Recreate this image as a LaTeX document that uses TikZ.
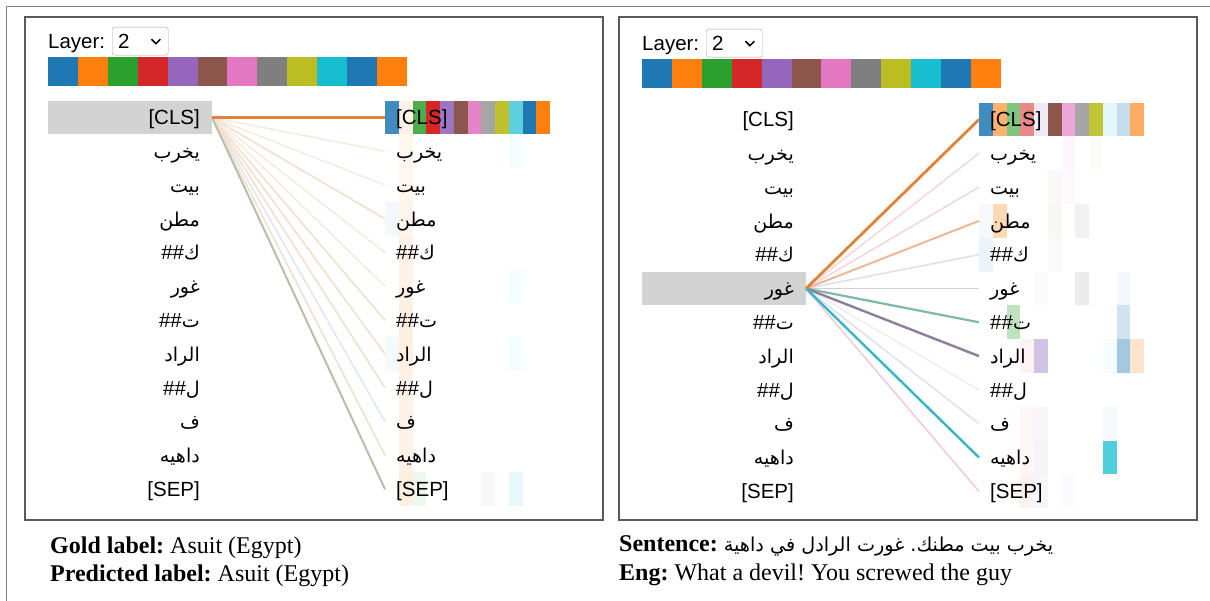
\documentclass[tikz,border=0pt]{standalone}
\usepackage{fontspec}
\setmainfont{Liberation Serif}
\setsansfont{Liberation Sans}
\newfontfamily\arabicfont[Script=Arabic,Scale=0.93]{DejaVu Sans}
\newfontfamily\arabiccap[Script=Arabic,Scale=0.8]{DejaVu Sans}
\TeXXeTstate=1
\usepackage{tikz}
\usetikzlibrary{positioning,calc}
\frenchspacing

\definecolor{tabblue}{HTML}{1F77B4}
\definecolor{taborange}{HTML}{FF7F0E}
\definecolor{tabgreen}{HTML}{2CA02C}
\definecolor{tabred}{HTML}{D62728}
\definecolor{tabpurple}{HTML}{9467BD}
\definecolor{tabbrown}{HTML}{8C564B}
\definecolor{tabpink}{HTML}{E377C2}
\definecolor{tabgray}{HTML}{7F7F7F}
\definecolor{tabolive}{HTML}{BCBD22}
\definecolor{tabcyan}{HTML}{17BECF}
\definecolor{selgray}{HTML}{D3D3D3}
\definecolor{framegray}{HTML}{5A5A5A}
% attention line colours (already mixed with white)
\definecolor{lnorange}{HTML}{E0823A}
\definecolor{lntanA}{HTML}{F6EBE0}
\definecolor{lntanB}{HTML}{F2E0CE}
\definecolor{lnolive}{HTML}{B8BEA8}
\definecolor{lnblue}{HTML}{E2E7EE}
\definecolor{lnpink}{HTML}{F4D8DC}
\definecolor{lnpeach}{HTML}{EBB898}
\definecolor{lnsteel}{HTML}{DCE2EC}
\definecolor{lnlav}{HTML}{CFCBDA}
\definecolor{lnteal}{HTML}{7DB8A8}
\definecolor{lnplum}{HTML}{8E7E9E}
\definecolor{lnfaint}{HTML}{EEEEF3}
\definecolor{lnlavB}{HTML}{E2E0EA}
\definecolor{lncyan}{HTML}{35B7CB}
\definecolor{lnpinkB}{HTML}{F0CCD6}

\newcommand{\artok}[1]{{\arabicfont\beginR #1\endR}}
\newcommand{\toklist}{{[CLS]},{\artok{يخرب}},{\artok{بيت}},{\artok{مطن}},{\#\#\artok{ك}},{\artok{غور}},{\#\#\artok{ت}},{\artok{الراد}},{\#\#\artok{ل}},{\artok{ف}},{\artok{داهيه}},{[SEP]}}
\newcommand{\headcols}{tabblue,taborange,tabgreen,tabred,tabpurple,tabbrown,tabpink,tabgray,tabolive,tabcyan,tabblue,taborange}

\begin{document}
\begin{tikzpicture}[x=1pt,y=-1pt,
  tokfont/.style={font=\fontsize{20.5}{24}\selectfont\sffamily},
  qtok/.style={tokfont, anchor=east, inner xsep=12pt, inner ysep=0pt, text height=18.5pt, text depth=4pt},
  ktok/.style={tokfont, anchor=west, inner xsep=11pt, inner ysep=0pt, text height=18.5pt, text depth=4pt},
  selbox/.style={anchor=east, fill=selgray, minimum width=164pt, minimum height=33pt, inner sep=0pt},
  dropbox/.style={draw=gray!70, rounded corners=2.5pt, anchor=north west, minimum width=56pt, minimum height=28pt, inner sep=0pt},
  plain/.style={tokfont, anchor=base west, inner sep=0pt},
  caption/.style={anchor=base west, inner sep=0pt, font=\fontsize{24}{28}\selectfont},
  frame/.style={draw=framegray, line width=1.1pt}]
\fill[white] (0,0) rectangle (1210,601);
\useasboundingbox (0,0) rectangle (1210,601);
\draw[gray, line width=1pt] (6,601) -- (6,7) -- (1210,7);
\draw[frame] (25,17) rectangle (603,520);
\draw[frame] (619,17) rectangle (1197,520);

% left panel, query token [CLS]
\begin{scope}
\node[plain] (alayer) at (48,49) {Layer:};
\node[dropbox] (adrop) at (112,27) {};
\node[plain] (alev) at (118,49) {2};
\draw[line width=1.5pt] ($(adrop.east)+(-17,-2)$) -- ++(4.5,4.5) -- ++(4.5,-4.5);
\foreach \c [count=\i from 0] in \headcols
  \fill[fill=\c] ({48+29.9*\i},57) rectangle ++(29.9,29);
\foreach \r/\c/\col/\o in {0/0/tabblue/0.85,0/1/taborange/0.1,0/2/tabgreen/0.85,0/3/tabred/1,
    0/4/tabpurple/0.9,0/5/tabbrown/1,0/6/tabpink/0.9,0/7/tabgray/0.7,0/8/tabolive/0.95,
    0/9/tabcyan/0.7,0/10/tabblue/1,0/11/taborange/1,
    1/1/taborange/0.06,2/1/taborange/0.06,3/1/taborange/0.08,4/1/taborange/0.1,5/1/taborange/0.1,
    6/1/taborange/0.12,7/1/taborange/0.12,8/1/taborange/0.1,9/1/taborange/0.1,10/1/taborange/0.1,
    11/1/taborange/0.12,3/0/tabblue/0.05,7/0/tabblue/0.04,11/2/tabgreen/0.08,11/9/tabcyan/0.1,
    11/7/tabgray/0.06,1/9/tabcyan/0.04,5/9/tabcyan/0.04,7/9/tabcyan/0.04}
  \fill[fill=\col, fill opacity=\o] ({385+13.75*\c},{100.6+33.8*\r}) rectangle ++(13.75,33.8);
\node[selbox] (asel) at (212,117.5) {};
\foreach \t [count=\i from 0] in \toklist {
  \node[qtok] (aq\i) at (212,{117.5+33.8*\i}) {\t};
  \node[ktok] (ak\i) at (385,{117.5+33.8*\i}) {\t};
}
\foreach \j/\c/\w in {1/lntanA/1.6,2/lntanA/1.6,4/lntanA/1.6,5/lntanA/1.6,9/lnblue/1.6,
    3/lntanB/1.6,6/lntanB/1.6,7/lntanB/1.6,8/lntanB/1.6,10/lntanB/1.6,11/lnolive/2,0/lnorange/2.6}
  \draw[draw=\c, line width=\w pt] (asel.east) -- (ak\j.west);
\end{scope}

% right panel, query token 5
\begin{scope}[shift={(594,2)}]
\node[plain] (blayer) at (48,49) {Layer:};
\node[dropbox] (bdrop) at (112,27) {};
\node[plain] (blev) at (118,49) {2};
\draw[line width=1.5pt] ($(bdrop.east)+(-17,-2)$) -- ++(4.5,4.5) -- ++(4.5,-4.5);
\foreach \c [count=\i from 0] in \headcols
  \fill[fill=\c] ({48+29.9*\i},57) rectangle ++(29.9,29);
\foreach \r/\c/\col/\o in {0/0/tabblue/0.85,0/1/taborange/0.6,0/2/tabgreen/0.6,0/3/tabred/0.55,
    0/4/tabpurple/0.15,0/5/tabbrown/1,0/6/tabpink/0.65,0/7/tabgray/0.7,0/8/tabolive/0.9,
    0/9/tabcyan/0.12,0/10/tabblue/0.25,0/11/taborange/0.65,
    1/6/tabpink/0.06,1/8/tabolive/0.03,2/5/tabbrown/0.04,2/6/tabpink/0.05,
    3/0/tabblue/0.04,3/1/taborange/0.3,3/5/tabbrown/0.05,3/7/tabgray/0.1,
    4/0/tabblue/0.08,4/5/tabbrown/0.03,5/4/tabpurple/0.03,5/7/tabgray/0.15,5/10/tabblue/0.06,
    6/2/tabgreen/0.3,6/10/tabblue/0.2,
    7/3/tabred/0.05,7/4/tabpurple/0.4,7/9/tabcyan/0.04,7/10/tabblue/0.4,7/11/taborange/0.2,
    9/3/tabred/0.04,9/4/tabpurple/0.06,9/9/tabblue/0.03,
    10/3/tabred/0.04,10/4/tabpurple/0.08,10/9/tabcyan/0.75,
    11/3/tabred/0.06,11/4/tabpurple/0.06,11/6/tabpink/0.04}
  \fill[fill=\col, fill opacity=\o] ({385+13.75*\c},{100.6+33.8*\r}) rectangle ++(13.75,33.8);
\node[selbox] (bsel) at (212,{117.5+33.8*5}) {};
\foreach \t [count=\i from 0] in \toklist {
  \node[qtok] (bq\i) at (212,{117.5+33.8*\i}) {\t};
  \node[ktok] (bk\i) at (385,{117.5+33.8*\i}) {\t};
}
\foreach \j/\c/\w in {8/lnfaint/1.6,1/lnpink/1.6,2/lnpink/1.6,4/lnsteel/1.6,9/lnlavB/1.6,
    11/lnpinkB/1.6,5/lnlav/1.8,3/lnpeach/2,6/lnteal/2.2,7/lnplum/2.4,10/lncyan/2.4,0/lnorange/2.8}
  \draw[draw=\c, line width=\w pt] (bsel.east) -- (bk\j.west);
\end{scope}

% captions under the panels
\node[caption] (gold) at (50,553) {\textbf{Gold label:} Asuit (Egypt)};
\node[caption] (pred) at (50,581) {\textbf{Predicted label:} Asuit (Egypt)};
\node[caption] (sent) at (619,551) {\textbf{Sentence:} {\arabiccap\beginR يخرب بيت مطنك. غورت الرادل في داهية\endR}};
\node[caption] (eng) at (619,580) {\textbf{Eng:} What a devil! You screwed the guy};
\end{tikzpicture}
\end{document}
